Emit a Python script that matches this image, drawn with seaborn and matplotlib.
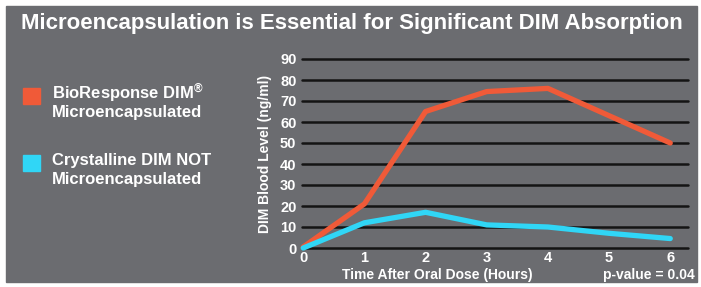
import pandas as pd
import matplotlib.pyplot as plt
import matplotlib.patches as mpatches
import seaborn as sns

# -------------------------------
# Data
# -------------------------------
hours = [0, 1, 2, 3, 4, 5, 6]
bioresponse = [0.5, 21, 65, 74.5, 76, 63, 50]
crystalline = [0, 12, 17, 11, 10, 7, 4.5]
series_names = ["BioResponse DIM$^{\u00ae}$\nMicroencapsulated", "Crystalline DIM NOT\nMicroencapsulated"]
y_ticks = [0, 10, 20, 30, 40, 50, 60, 70, 80, 90]

BG = "#6b6c70"
ORANGE = "#f05a38"
CYAN = "#30d6f6"

sns.set_style("dark")
plt.rcParams['font.family'] = ['Liberation Sans', 'DejaVu Sans']
plt.rcParams['mathtext.fontset'] = 'custom'
plt.rcParams['mathtext.rm'] = 'Liberation Sans:bold'
plt.rcParams['mathtext.it'] = 'Liberation Sans:bold'
plt.rcParams['mathtext.bf'] = 'Liberation Sans:bold'

df = pd.DataFrame({
    "hours": hours * 2,
    "level": bioresponse + crystalline,
    "series": [series_names[0]] * len(hours) + [series_names[1]] * len(hours),
})

fig = plt.figure(figsize=(7.01, 2.87), dpi=100)
fig.patch.set_facecolor("white")
fig.patches.append(mpatches.Rectangle((6 / 701, 5 / 287), 691 / 701, 276 / 287,
                                      transform=fig.transFigure, color=BG, zorder=-5))

ax = fig.add_axes([302 / 701, 39 / 287, 386 / 701, 189 / 287])
ax.set_facecolor("none")

sns.lineplot(data=df, x="hours", y="level", hue="series", palette=[ORANGE, CYAN],
             linewidth=3.8, legend=False, ax=ax, clip_on=False, zorder=3)

ax.set_xlim(-0.02, 6.29)
ax.set_ylim(0, 90)
ax.set_yticks(y_ticks)
ax.set_xticks(hours)
ax.grid(False)
for t in y_ticks:
    ax.axhline(t, color="#141414", linewidth=1.8, zorder=1, clip_on=False)
for s in ax.spines.values():
    s.set_visible(False)
ax.tick_params(length=0, colors="white", labelsize=10.5, pad=4)
ax.tick_params(axis="x", pad=2)
for lab in ax.get_xticklabels() + ax.get_yticklabels():
    lab.set_fontweight("bold")
ax.set_xlabel("")
ax.set_ylabel("DIM Blood Level (ng/ml)", color="white", fontsize=10, fontweight="bold", labelpad=6)

fig.text(437 / 701, 1 - 275 / 287, "Time After Oral Dose (Hours)", color="white",
         fontsize=10, fontweight="bold", ha="center", va="center")
fig.text(695 / 701, 1 - 275 / 287, "p-value = 0.04", color="white",
         fontsize=10, fontweight="bold", ha="right", va="center")

fig.text(352 / 701, 1 - 24 / 287, "Microencapsulation is Essential for Significant DIM Absorption",
         color="white", fontsize=16, fontweight="bold", ha="center", va="center")

# legend: colour square + two text lines per series
for i, (name, col) in enumerate(zip(series_names, [ORANGE, CYAN])):
    top = 88 + i * 67
    fig.patches.append(mpatches.Rectangle((23 / 701, 1 - (top + 16) / 287), 17 / 701, 16 / 287,
                                          transform=fig.transFigure, color=col, zorder=2))
    for j, line in enumerate(name.split("\n")):
        fig.text(52 / 701, 1 - (top + 10 + j * 19) / 287, line, color="white", fontsize=12,
                 fontweight="bold", ha="left", va="baseline")

fig.savefig("out.png", dpi=100, facecolor=fig.get_facecolor())
